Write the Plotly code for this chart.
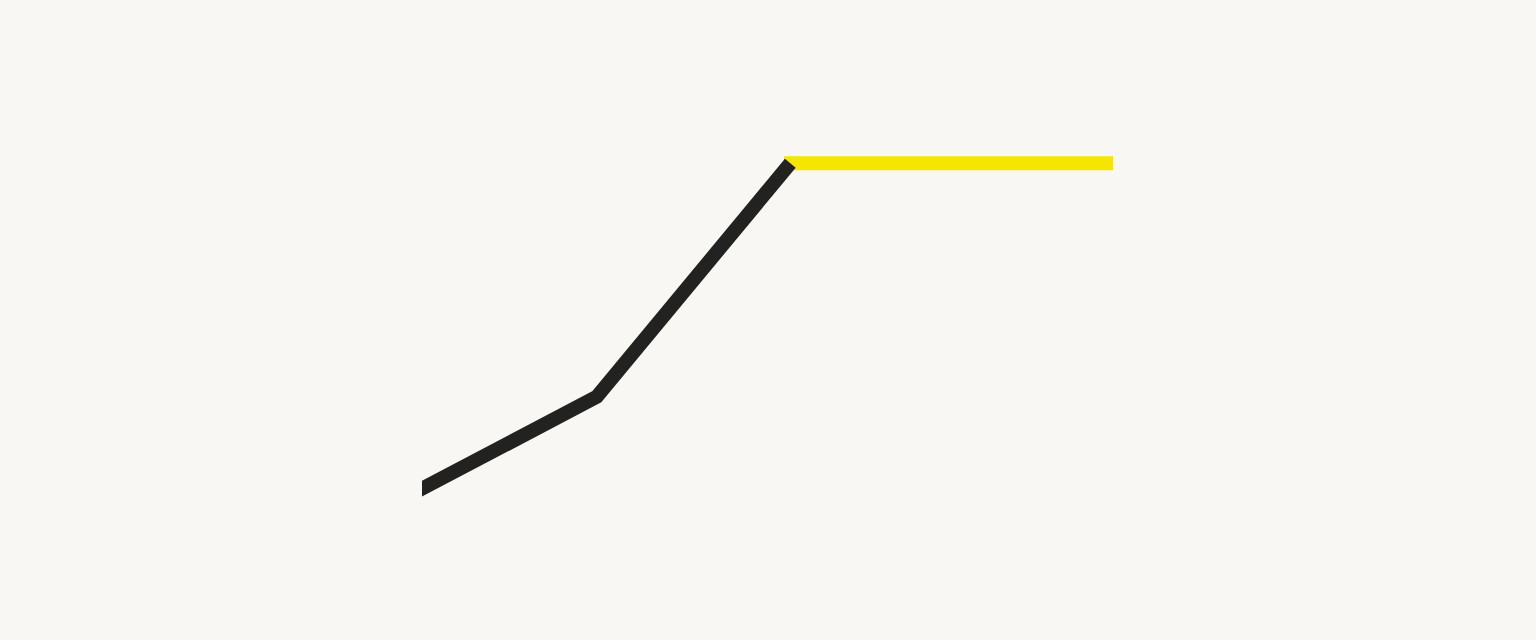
import plotly.graph_objs as go

# series values (arbitrary units, axes hidden)
dark_x = [-5, 0, 25.3, 53.3]
dark_y = [20.8, 23.6, 38.0, 74.5]

bright_x = [52.4, 100]
bright_y = [74.5, 74.5]

fig = go.Figure()

fig.add_trace(go.Scatter(x=bright_x, y=bright_y, mode="lines",
                         line=dict(color="#f6e500", width=14), showlegend=False))
fig.add_trace(go.Scatter(x=dark_x, y=dark_y, mode="lines",
                         line=dict(color="#222220", width=14), showlegend=False))

fig.update_layout(width=1536, height=640,
                  margin=dict(l=422, r=423, t=0, b=0),
                  paper_bgcolor="#f8f7f3", plot_bgcolor="#f8f7f3",
                  xaxis=dict(range=[0, 100], visible=False, fixedrange=True),
                  yaxis=dict(range=[0, 100], visible=False, fixedrange=True))

# drop the browser's default body margin so the figure sits at the corner
fig.write_html("out.html", config=dict(displayModeBar=False),
               post_script="document.body.style.margin='0';document.body.style.background='#f8f7f3';")
